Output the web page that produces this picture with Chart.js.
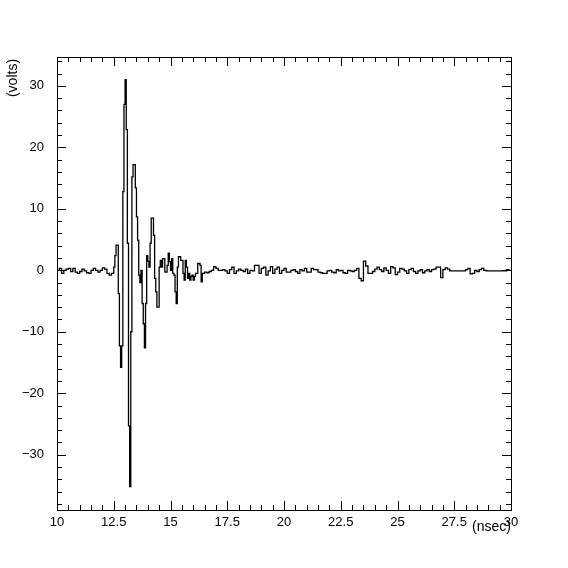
<!DOCTYPE html>
<html>
<head>
<meta charset="utf-8">
<script src="https://cdn.jsdelivr.net/npm/chart.js@4"></script>
<style>
  html, body { margin: 0; padding: 0; background: #fff; }
  #wrap { width: 568px; height: 568px; }
</style>
</head>
<body>
<div id="wrap"><canvas id="myChart" width="568" height="568"></canvas></div>
<script>
// dados (ns, volts) - passo de 0.1 ns fora do pulso, 0.05 ns no pulso
var earlyStart = 10.0, earlyStep = 0.1;
var earlyVolts = [0, 0, 0.3, -0.5, 0, 0.2, 0.3, -0.2, 0.3, -0.3,
                  -0.5, -0.2, 0.2, -0.1, -0.4, -0.5, 0, 0.3, 0, -0.3,
                  0, 0.4, 0.2, -0.5, -0.8];

var pulseStart = 12.5, pulseStep = 0.05;
var pulseVolts = [-0.5, 0.5, 2.4, 4.1, 4.1, -3.8, -12.3, -15.8, -12.3, 12.8,
                  27, 31, 22.9, 4.4, -25.3, -35.2, -10, 15.2, 17.2, 17.2,
                  13.4, 8.7, 4.9, -0.8, -2.0, 0, -5.4, -8.7, -12.6, -5.4,
                  2.4, 1.5, 0.5, 4.4, 8.5, 8.5, 5.7, -1.3, -3.5, -6.0,
                  -6.0, 0.5, 1.6, 0.5, 1.9, 1.9, -0.3, -0.3, 0.8, 2.8,
                  1.4, 0, 1.9, -0.5, -0.8, -3.5, -5.4, 0.5, 2.2, 2.2,
                  1.6, 1.6, -0.5, -1.6, 1.6, 0.5, -1.3, -0.5, -1.6, -1.0,
                  -0.8, -1.6, -1.0, -0.5, -0.5, 1.1, 1.1, 0.8, -1.9, -0.5];

var tailStart = 16.5, tailStep = 0.1;
var tailVolts = [-0.5, -0.3, -0.4, -0.2, 0, 0.6, 0.3, 0, 0, 0.1,
                 -0.1, -0.5, 0.1, 0.5, -0.5, -0.1, 0.2, 0, -0.2, 0.2,
                 -0.5, 0, -0.1, 0.8, 0.8, -0.5, 0.3, 0.5, -0.8, -0.1,
                 0.6, -0.5, 0.2, 0.5, -0.5, 0, 0.3, -0.3, -0.3, 0,
                 0.1, -0.2, -0.5, 0.1, -0.1, 0.3, -0.3, -0.3, 0.3, 0.1,
                 0.1, -0.3, -0.4, -0.5, -0.5, -0.1, 0, -0.3, -0.4, 0.1,
                 -0.1, 0, -0.4, -0.5, 0, -0.1, -0.2, 0, 0.3, -1.3,
                 -1.7, 1.5, 0.7, -0.5, -0.5, -0.2, 0.2, 0.5, 0.1, -0.2,
                 0.4, 0, -0.5, 0.6, 0.4, -0.7, -0.3, 0.3, 0.2, -0.1,
                 -0.5, 0.1, 0.3, -0.2, -0.5, -0.1, 0.1, -0.4, -0.1, 0.1,
                 -0.2, 0.1, 0.2, 0.5, 0.5, -1.2, 0.1, 0.4, 0.2, -0.1,
                 -0.1, -0.1, -0.1, -0.1, -0.1, -0.1, 0.1, 0.3, -0.6, -0.5,
                 0, -0.2, 0.1, 0.3, 0, -0.1, -0.1, -0.1, -0.1, -0.1,
                 -0.1, -0.1, -0.1, -0.1, 0.1, 0];

var xTicks = [10, 12.5, 15, 17.5, 20, 22.5, 25, 27.5, 30];
var yTicks = [-30, -20, -10, 0, 10, 20, 30];

function montaPontos(inicio, passo, valores) {
    return valores.map(function (v, i) {
        return { x: Math.round((inicio + i * passo) * 1000) / 1000, y: v };
    });
}

var pontos = montaPontos(earlyStart, earlyStep, earlyVolts)
    .concat(montaPontos(pulseStart, pulseStep, pulseVolts))
    .concat(montaPontos(tailStart, tailStep, tailVolts));

var fonte = { family: 'Liberation Sans', size: 13 };

// moldura, marcas internas e títulos dos eixos
var molduraPlugin = {
    id: 'moldura',
    afterDatasetsDraw: function (chart) {
        var c = chart.ctx, a = chart.chartArea;
        var sx = chart.scales.x, sy = chart.scales.y;
        c.save();
        c.strokeStyle = '#000';
        c.lineWidth = 1;
        c.strokeRect(Math.round(a.left) + 0.5, Math.round(a.top) + 0.5,
                     Math.round(a.right - a.left), Math.round(a.bottom - a.top));
        c.beginPath();
        for (var t = 10; t <= 30.001; t += 0.5) {
            var px = Math.round(sx.getPixelForValue(t)) + 0.5;
            var len = (Math.abs(t / 2.5 - Math.round(t / 2.5)) < 1e-6) ? 9 : 5;
            c.moveTo(px, a.bottom); c.lineTo(px, a.bottom - len);
            c.moveTo(px, a.top); c.lineTo(px, a.top + len);
        }
        for (var v = -38; v <= 34; v += 2) {
            var py = Math.round(sy.getPixelForValue(v)) + 0.5;
            var l2 = (v % 10 === 0) ? 9 : 5;
            c.moveTo(a.left, py); c.lineTo(a.left + l2, py);
            c.moveTo(a.right, py); c.lineTo(a.right - l2, py);
        }
        c.stroke();

        c.fillStyle = '#000';
        c.font = '14px "Liberation Sans"';
        c.textAlign = 'right';
        c.textBaseline = 'middle';
        c.fillText('(nsec)', a.right, 527);
        c.translate(13, 78);
        c.rotate(-Math.PI / 2);
        c.textAlign = 'center';
        c.fillText('(volts)', 0, 0);
        c.restore();
    }
};

var ctx = document.getElementById('myChart').getContext('2d');
var myChart = new Chart(ctx, {
    type: 'line',
    data: {
        datasets: [{
            data: pontos,
            borderColor: '#000',
            borderWidth: 1.3,
            pointRadius: 0,
            stepped: 'after',
            fill: false
        }]
    },
    options: {
        responsive: false,
        animation: false,
        layout: { padding: { left: 0, right: 57, top: 57, bottom: 0 } },
        plugins: { legend: { display: false }, tooltip: { enabled: false } },
        scales: {
            x: {
                type: 'linear',
                min: 10, max: 30,
                afterBuildTicks: function (s) { s.ticks = xTicks.map(function (v) { return { value: v }; }); },
                afterFit: function (s) { s.height = 58; },
                grid: { display: false, drawTicks: false },
                border: { display: false },
                ticks: {
                    color: '#000', font: fonte, padding: 5,
                    autoSkip: false, maxRotation: 0,
                    callback: function (v) { return String(v); }
                }
            },
            y: {
                type: 'linear',
                min: -39, max: 34.7,
                afterBuildTicks: function (s) { s.ticks = yTicks.map(function (v) { return { value: v }; }); },
                afterFit: function (s) { s.width = 57; },
                grid: { display: false, drawTicks: false },
                border: { display: false },
                ticks: {
                    color: '#000', font: fonte, padding: 13,
                    autoSkip: false,
                    callback: function (v) { return String(v).replace('-', '\u2212'); }
                }
            }
        }
    },
    plugins: [molduraPlugin]
});
</script>
</body>
</html>
